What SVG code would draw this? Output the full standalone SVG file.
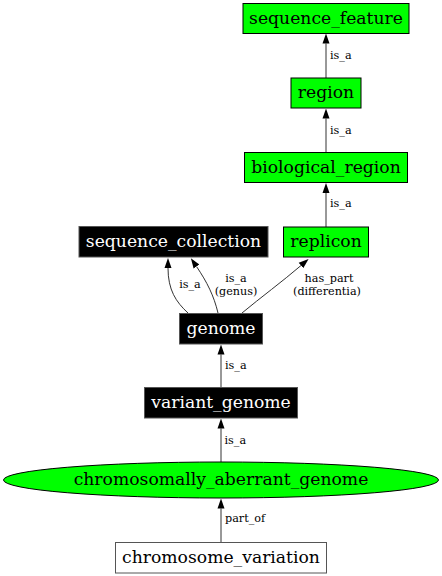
<svg xmlns="http://www.w3.org/2000/svg" width="442" height="576" viewBox="0 0 442 576">
<style>
.n{font-family:"DejaVu Serif",serif;font-size:17.2px;text-anchor:middle}
.e{font-family:"DejaVu Serif",serif;font-size:11.2px}
.m{text-anchor:middle}
.g{fill:#00ff00;stroke:#000;stroke-width:1}
.b{fill:#000;stroke:#555;stroke-width:1}
.w{fill:#fff;stroke:#555;stroke-width:1}
.wt{fill:#fff}
.c{fill:none;stroke:#333;stroke-width:1}
</style>
<defs>
<marker id="ah" markerUnits="userSpaceOnUse" markerWidth="10" markerHeight="8" refX="0" refY="3.5" orient="auto" viewBox="0 0 10 7">
<path d="M0,0 L10,3.5 L0,7 z" fill="#000"/>
</marker>
</defs>
<rect width="442" height="576" fill="#fff"/>
<g id="connectors">
<path class="c" d="M326,78 L326,43.5" marker-end="url(#ah)"/>
<path class="c" d="M326,152 L326,118.5" marker-end="url(#ah)"/>
<path class="c" d="M326,227 L326,193" marker-end="url(#ah)"/>
<path class="c" d="M188,313 C176,302 168,290 168,268" marker-end="url(#ah)"/>
<path class="c" d="M218,313 C214,296 207,282 196.5,266.5" marker-end="url(#ah)"/>
<path class="c" d="M242,313 C260,298 283,281 301,265.5" marker-end="url(#ah)"/>
<path class="c" d="M221,387 L221,354.5" marker-end="url(#ah)"/>
<path class="c" d="M221,462 L221,428.5" marker-end="url(#ah)"/>
<path class="c" d="M221,542 L221,508.5" marker-end="url(#ah)"/>
<text class="e" x="330" y="59">is_a</text>
<text class="e" x="330" y="134">is_a</text>
<text class="e" x="330" y="207">is_a</text>
<text class="e m" x="190" y="288">is_a</text>
<text class="e m" x="236" y="281.5">is_a</text>
<text class="e m" x="236" y="294.5">(genus)</text>
<text class="e m" x="329" y="281.5">has_part</text>
<text class="e m" x="327" y="294.5">(differentia)</text>
<text class="e" x="225" y="369">is_a</text>
<text class="e" x="224.5" y="444">is_a</text>
<text class="e" x="225" y="522">part_of</text>
</g>
<g id="sequence_feature"><rect class="g" x="243" y="3.5" width="166" height="30"/><text class="n" x="326" y="24">sequence_feature</text></g>
<g id="region"><rect class="g" x="291" y="78" width="70" height="30"/><text class="n" x="326" y="98">region</text></g>
<g id="biological_region"><rect class="g" x="244.5" y="152.5" width="163" height="30"/><text class="n" x="326" y="172.5">biological_region</text></g>
<g id="replicon"><rect class="g" x="283.5" y="227" width="85" height="30"/><text class="n" x="326" y="247">replicon</text></g>
<g id="sequence_collection"><rect class="b" x="79" y="226.5" width="189" height="30.5"/><text class="n wt" x="173.5" y="246.5">sequence_collection</text></g>
<g id="genome"><rect class="b" x="179.5" y="313.5" width="83" height="30.5"/><text class="n wt" x="221" y="333.5">genome</text></g>
<g id="variant_genome"><rect class="b" x="144.5" y="387.5" width="153" height="30.5"/><text class="n wt" x="221" y="407.5">variant_genome</text></g>
<g id="chromosomally_aberrant_genome"><ellipse class="g" cx="221" cy="480" rx="217.5" ry="18"/><text class="n" x="221" y="485">chromosomally_aberrant_genome</text></g>
<g id="chromosome_variation"><rect class="w" x="115.5" y="542.5" width="211" height="30.5"/><text class="n" x="221" y="562.5">chromosome_variation</text></g>
</svg>
